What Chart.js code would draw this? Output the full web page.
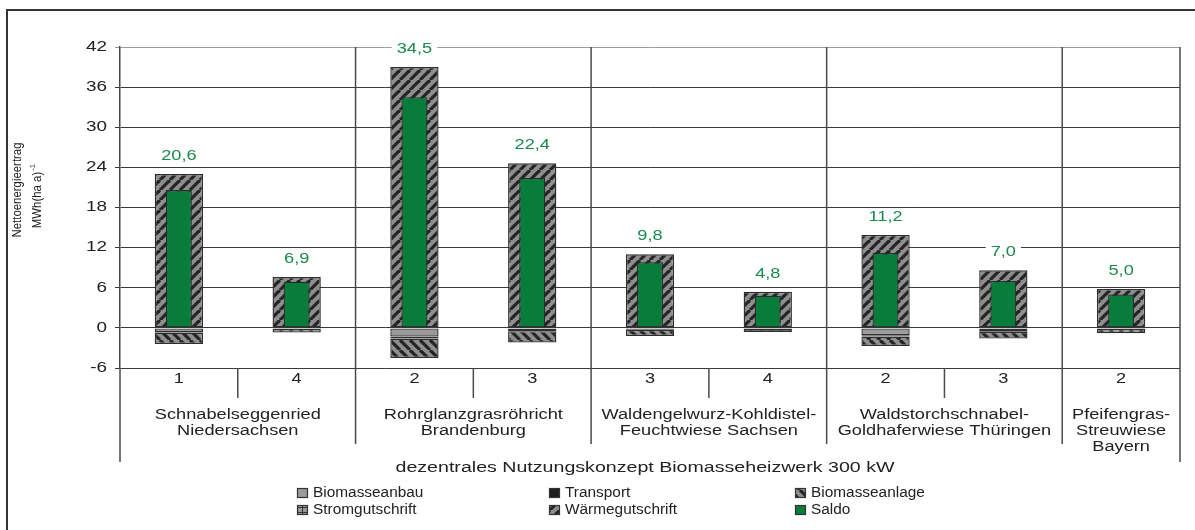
<!DOCTYPE html>
<html>
<head>
<meta charset="utf-8">
<script src="https://cdn.jsdelivr.net/npm/chart.js@4.4.1/dist/chart.umd.min.js"></script>
<style>
  html, body { margin: 0; padding: 0; background: #fff; }
  canvas { display: block; }
</style>
</head>
<body>
<canvas id="chart" width="1195" height="530"></canvas>
<script>
// categories
const variants = ['1', '4', '2', '3', '3', '4', '2', '3', '2'];
const groupNames = [
  ['Schnabelseggenried', 'Niedersachsen'],
  ['Rohrglanzgrasröhricht', 'Brandenburg'],
  ['Waldengelwurz-Kohldistel-', 'Feuchtwiese Sachsen'],
  ['Waldstorchschnabel-', 'Goldhaferwiese Thüringen'],
  ['Pfeifengras-', 'Streuwiese', 'Bayern']
];
const groupSizes = [2, 2, 2, 2, 1];
const caption = 'dezentrales Nutzungskonzept Biomasseheizwerk 300 kW';
const yTitle = ['Nettoenergieertrag', 'MWh(ha a)', '-1'];

// series, MWh per ha and year
const biomasseanbau   = [-0.6, -0.1, -1.3, -0.1, -0.2, -0.1, -1.1, -0.5, -0.1];
const transport       = [-0.1, -0.05, -0.3, -0.4, -0.1, -0.05, -0.2, -0.1, -0.05];
const biomasseanlage  = [-1.7, -0.55, -2.9, -1.7, -0.9, -0.45, -1.4, -1.0, -0.65];
const stromgutschrift = [0, 0, 0, 0, 0, 0, 0, 0, 0];
const waermegutschrift = [23.0, 7.6, 39.0, 24.6, 11.0, 5.4, 13.9, 8.6, 5.8];
const saldo           = [20.6, 6.9, 34.5, 22.4, 9.8, 4.8, 11.2, 7.0, 5.0];

// y axis
const yMin = -6, yMax = 42, yStep = 6;

const FONT = '"Liberation Sans", Arial, sans-serif';
const SX = 1.3; // the source text is drawn wide
const GREEN = '#077c3b';
const INK = '#222';

const tmp = document.createElement('canvas').getContext('2d');

function hatch(dir) {
  const n = 10;
  const c = document.createElement('canvas');
  c.width = n; c.height = n;
  const g = c.getContext('2d');
  g.fillStyle = '#8e8e8e';
  g.fillRect(0, 0, n, n);
  g.strokeStyle = '#252525';
  g.lineWidth = 3.2;
  for (const o of [-n, 0, n]) {
    g.beginPath();
    if (dir > 0) { g.moveTo(o, n); g.lineTo(o + n, 0); }
    else { g.moveTo(o, 0); g.lineTo(o + n, n); }
    g.stroke();
  }
  return tmp.createPattern(c, 'repeat');
}

function grid() {
  const c = document.createElement('canvas');
  c.width = 5; c.height = 5;
  const g = c.getContext('2d');
  g.fillStyle = '#999';
  g.fillRect(0, 0, 5, 5);
  g.fillStyle = '#333';
  g.fillRect(0, 2, 5, 1);
  g.fillRect(2, 0, 1, 5);
  return tmp.createPattern(c, 'repeat');
}

const waermeFill = hatch(1);
const anlageFill = hatch(-1);
const stromFill = grid();

function wideText(ctx, text, x, y, align, sx) {
  ctx.save();
  ctx.translate(x, y);
  ctx.scale(sx, 1);
  ctx.textAlign = align;
  ctx.textBaseline = 'middle';
  ctx.fillText(text, 0, 0);
  ctx.restore();
}

function vline(ctx, x, y1, y2) {
  ctx.beginPath();
  ctx.moveTo(x, y1);
  ctx.lineTo(x, y2);
  ctx.stroke();
}

// value labels of the Saldo bars, with white backing
const saldoLabels = {
  id: 'saldoLabels',
  afterDatasetsDraw(chart) {
    const ctx = chart.ctx, x = chart.scales.x, y = chart.scales.y;
    ctx.save();
    ctx.font = '14px ' + FONT;
    saldo.forEach((v, i) => {
      const t = v.toFixed(1).replace('.', ',');
      const px = x.getPixelForValue(i);
      const py = y.getPixelForValue(waermegutschrift[i]) - 18;
      const w = ctx.measureText(t).width * SX + 10;
      ctx.fillStyle = '#fff';
      ctx.fillRect(px - w / 2, py - 8, w, 16);
      ctx.fillStyle = '#1a8a4c';
      wideText(ctx, t, px, py, 'center', SX);
    });
    ctx.restore();
  }
};

// frame, tick labels, category axis, y title, legend
const decorations = {
  id: 'decorations',
  afterDraw(chart) {
    const ctx = chart.ctx, x = chart.scales.x, y = chart.scales.y, a = chart.chartArea;
    ctx.save();

    ctx.strokeStyle = '#333';
    ctx.lineWidth = 2;
    ctx.beginPath();
    ctx.moveTo(7, 530); ctx.lineTo(7, 10); ctx.lineTo(1195, 10);
    ctx.stroke();

    ctx.fillStyle = INK;
    ctx.font = '14px ' + FONT;
    y.ticks.forEach(t => wideText(ctx, String(t.value), a.left - 13, y.getPixelForValue(t.value), 'right', 1.35));

    const half = (x.getPixelForValue(1) - x.getPixelForValue(0)) / 2;
    ctx.strokeStyle = '#4a4a4a';
    ctx.lineWidth = 1.5;
    vline(ctx, a.left, a.bottom, 462);
    vline(ctx, a.right, a.top, 462);

    let start = 0;
    groupSizes.forEach((n, gi) => {
      for (let k = 1; k < n; k++) {
        vline(ctx, x.getPixelForValue(start + k) - half, a.bottom, a.bottom + 30);
      }
      const end = start + n;
      if (end < variants.length) {
        vline(ctx, x.getPixelForValue(end) - half, a.top, 444);
      }
      const cx = (x.getPixelForValue(start) + x.getPixelForValue(end - 1)) / 2;
      ctx.fillStyle = INK;
      ctx.font = '14px ' + FONT;
      groupNames[gi].forEach((line, li) => wideText(ctx, line, cx, 415 + li * 16, 'center', SX));
      start = end;
    });

    ctx.fillStyle = INK;
    ctx.font = '14px ' + FONT;
    variants.forEach((v, i) => wideText(ctx, v, x.getPixelForValue(i), 379, 'center', SX));
    wideText(ctx, caption, (a.left + a.right) / 2 - 5, 468, 'center', 1.4);

    // rotated y title
    ctx.save();
    ctx.translate(18, 190);
    ctx.rotate(-Math.PI / 2);
    ctx.font = '12px ' + FONT;
    wideText(ctx, yTitle[0], 0, 0, 'center', 0.95);
    const w1 = ctx.measureText(yTitle[1]).width * 0.95;
    wideText(ctx, yTitle[1], -10, 20, 'center', 0.95);
    ctx.font = '8px ' + FONT;
    wideText(ctx, yTitle[2], -10 + w1 / 2 + 1, 15, 'left', 0.95);
    ctx.restore();

    // legend
    const items = chart.data.datasets;
    const cols = [297, 549, 795], rows = [493, 510];
    const order = ['Biomasseanbau', 'Transport', 'Biomasseanlage', 'Stromgutschrift', 'Wärmegutschrift', 'Saldo'];
    order.forEach((name, k) => {
      const ds = items.find(d => d.label === name);
      const bx = cols[k % 3], by = rows[Math.floor(k / 3)];
      ctx.fillStyle = ds.backgroundColor;
      ctx.fillRect(bx, by - 5, 11, 10);
      ctx.strokeStyle = '#333';
      ctx.lineWidth = 1.2;
      ctx.strokeRect(bx + 0.5, by - 4.5, 10, 9);
      ctx.fillStyle = INK;
      ctx.font = '14px ' + FONT;
      wideText(ctx, name, bx + 16, by, 'left', 1.1);
    });

    ctx.restore();
  }
};

const stackBar = { stack: 'main', borderColor: '#2e2e2e', borderWidth: 1.4, borderSkipped: false,
                   categoryPercentage: 1, barPercentage: 0.41 };

new Chart(document.getElementById('chart'), {
  type: 'bar',
  data: {
    labels: variants,
    datasets: [
      { ...stackBar, label: 'Biomasseanbau', data: biomasseanbau, backgroundColor: '#9a9a9a' },
      { ...stackBar, label: 'Transport', data: transport, backgroundColor: '#1e1e1e' },
      { ...stackBar, label: 'Biomasseanlage', data: biomasseanlage, backgroundColor: anlageFill },
      { ...stackBar, label: 'Stromgutschrift', data: stromgutschrift, backgroundColor: stromFill, borderWidth: 0 },
      { ...stackBar, label: 'Wärmegutschrift', data: waermegutschrift, backgroundColor: waermeFill },
      { label: 'Saldo', data: saldo, stack: 'saldo', grouped: false, order: -1,
        backgroundColor: GREEN, borderColor: '#2a2a2a', borderWidth: 1.2, borderSkipped: false,
        categoryPercentage: 1, barPercentage: 0.22 }
    ]
  },
  options: {
    responsive: false,
    animation: false,
    events: [],
    layout: { padding: { left: 0, top: 47, right: 15, bottom: 162 } },
    plugins: { legend: { display: false }, tooltip: { enabled: false } },
    scales: {
      x: { display: false, stacked: true, offset: true },
      y: {
        stacked: true,
        min: yMin,
        max: yMax,
        afterFit(scale) { scale.width = 120; },
        ticks: { stepSize: yStep, display: false },
        grid: {
          color: c => (c.tick && c.tick.value === yMax ? '#9c9c9c' : '#3a3a3a'),
          lineWidth: 1,
          tickLength: 5
        },
        border: { display: true, color: '#444', width: 1.5 }
      }
    }
  },
  plugins: [saldoLabels, decorations]
});
</script>
</body>
</html>
